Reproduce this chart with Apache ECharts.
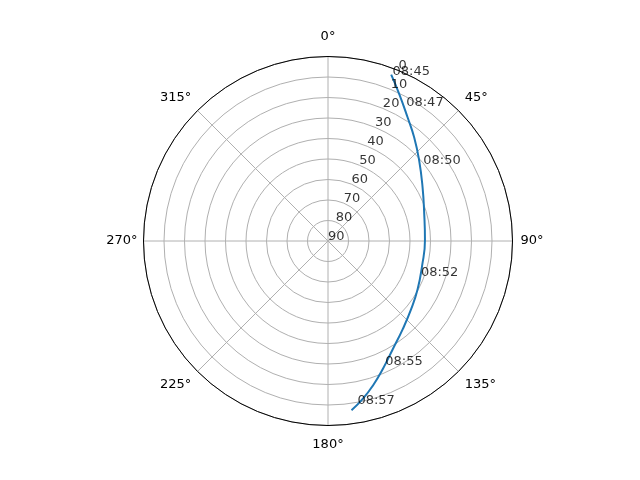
<!DOCTYPE html>
<html>
<head>
<meta charset="utf-8">
<script src="https://cdn.jsdelivr.net/npm/echarts@6/dist/echarts.min.js"></script>
<style>
  html, body { margin: 0; padding: 0; background: #fff; }
  #main { width: 640px; height: 480px; }
</style>
</head>
<body>
<div id="main"></div>
<script>
// satellite pass, elevation (deg) / azimuth (deg)
var trackEl = [3.2, 10.5, 18.4, 24.3, 30.7, 36.9, 41.2, 42.7, 42.5, 40.3, 37.5, 33.6, 28.5, 22.1, 16.2, 11.2, 6.6];
var trackAz = [20.8, 26.0, 32.9, 39.8, 48.6, 60.3, 74.1, 89.4, 105.2, 118.5, 129.5, 139.8, 149.1, 156.8, 162.7, 167.5, 172.1];

// time stamps along the pass
var timeText = ['08:45', '08:47', '08:50', '08:52', '08:55', '08:57'];
var timeEl = [3.3, 13.9, 30.4, 41.6, 23.4, 8.9];
var timeAz = [21.3, 30.1, 51.3, 110.5, 155.2, 169.8];

// radial tick labels (elevation), drawn along 22.5 deg like matplotlib
var rTicks = [0, 10, 20, 30, 40, 50, 60, 70, 80, 90];
var rLabelAngle = 22.5;

var font = 'DejaVu Sans';
var myChart = echarts.init(document.getElementById('main'));

var track = trackEl.map(function (e, i) { return [e, trackAz[i]]; });
var stamps = timeEl.map(function (e, i) { return { value: [e, timeAz[i]], name: timeText[i] }; });
var rLabels = rTicks.map(function (r) { return [r, rLabelAngle]; });

myChart.setOption({
    animation: false,
    backgroundColor: '#fff',
    polar: {
        center: [328, 241],
        radius: 184.5
    },
    angleAxis: {
        type: 'value',
        min: 0,
        max: 360,
        interval: 45,
        startAngle: 90,
        clockwise: true,
        axisLine: { lineStyle: { color: '#000', width: 1 } },
        axisTick: { show: false },
        axisLabel: {
            margin: 6,
            color: '#000',
            fontFamily: font,
            fontSize: 13,
            formatter: function (v) {
                if (v === 360) return '';
                if (v === 0 || v === 180) return '{tb|' + v + '°}';
                if (v === 270) return '{s|' + v + '°}';
                return '{d|' + v + '°}';
            },
            rich: {
                tb: { fontFamily: font, fontSize: 13, color: '#000', padding: [7, 0, 7, 0] },
                s: { fontFamily: font, fontSize: 13, color: '#000', padding: [0, 0, 0, 0] },
                d: { fontFamily: font, fontSize: 13, color: '#000', padding: [2, 2, 2, 2] }
            }
        },
        splitLine: { show: true, lineStyle: { color: '#b0b0b0', width: 1 } }
    },
    radiusAxis: {
        type: 'value',
        min: 0,
        max: 90,
        interval: 10,
        inverse: true,
        axisLine: { show: false },
        axisTick: { show: false },
        axisLabel: { show: false },
        splitLine: { show: true, lineStyle: { color: '#b0b0b0', width: 1 } }
    },
    series: [
        {
            type: 'line',
            coordinateSystem: 'polar',
            data: track,
            smooth: true,
            showSymbol: false,
            lineStyle: { color: '#1f77b4', width: 2 },
            z: 3
        },
        {
            type: 'scatter',
            coordinateSystem: 'polar',
            data: rLabels,
            symbolSize: 0.1,
            silent: true,
            label: {
                show: true,
                position: [0, 0],
                align: 'left',
                verticalAlign: 'bottom',
                offset: [0, 2],
                color: '#000',
                fontFamily: font,
                fontSize: 13,
                formatter: function (p) { return p.value[0]; }
            },
            z: 4
        },
        {
            type: 'scatter',
            coordinateSystem: 'polar',
            data: stamps,
            symbolSize: 0.1,
            silent: true,
            label: {
                show: true,
                position: [0, 0],
                align: 'left',
                verticalAlign: 'bottom',
                offset: [0, 3],
                color: '#000',
                fontFamily: font,
                fontSize: 13,
                formatter: function (p) { return p.name; }
            },
            z: 5
        }
    ]
});
</script>
</body>
</html>
